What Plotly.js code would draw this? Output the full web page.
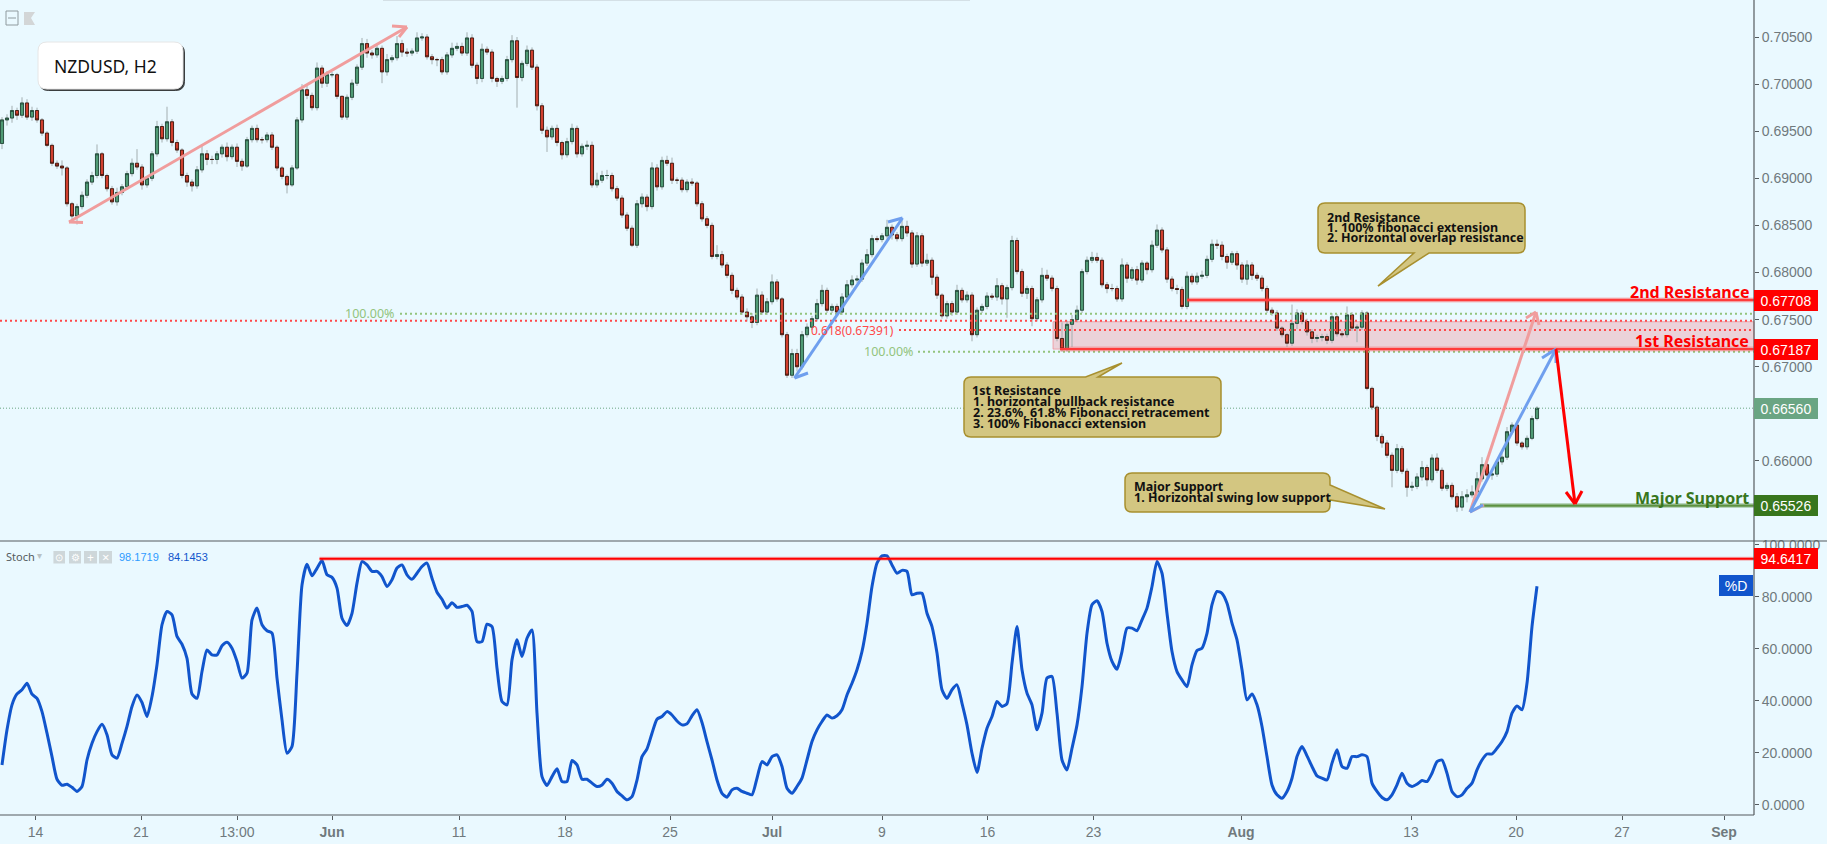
<!DOCTYPE html>
<html><head><meta charset="utf-8">
<script src="https://cdn.plot.ly/plotly-3.0.1.min.js"></script>
<style>html,body{margin:0;padding:0;background:#eaf9ff;overflow:hidden}</style>
</head><body><div id="chart" style="width:1827px;height:844px"></div>
<script>
const closes=[0.6962,0.6964,0.6972,0.6967,0.6980,0.6965,0.6972,0.6962,0.6948,0.6935,
0.6916,0.6913,0.6911,0.6873,0.6860,0.6870,0.6882,0.6896,0.6903,0.6926,
0.6903,0.6889,0.6875,0.6885,0.6891,0.6905,0.6916,0.6912,0.6893,0.6900,
0.6926,0.6955,0.6942,0.6960,0.6938,0.6930,0.6903,0.6896,0.6892,0.6909,
0.6926,0.6920,0.6920,0.6926,0.6933,0.6923,0.6933,0.6918,0.6913,0.6941,
0.6953,0.6941,0.6941,0.6946,0.6933,0.6911,0.6902,0.6893,0.6911,0.6962,
0.6994,0.6988,0.6975,0.7017,0.7001,0.7010,0.7010,0.6987,0.6965,0.6986,
0.7001,0.7018,0.7043,0.7033,0.7031,0.7038,0.7013,0.7026,0.7028,0.7043,
0.7034,0.7033,0.7035,0.7049,0.7050,0.7029,0.7026,0.7026,0.7013,0.7031,
0.7038,0.7040,0.7033,0.7049,0.7020,0.7006,0.7037,0.7034,0.7006,0.7003,
0.7006,0.7026,0.7046,0.7007,0.7022,0.7036,0.7018,0.6977,0.6951,0.6944,
0.6953,0.6938,0.6925,0.6939,0.6953,0.6926,0.6934,0.6935,0.6893,0.6898,
0.6903,0.6903,0.6889,0.6879,0.6861,0.6847,0.6829,0.6873,0.6880,0.6870,
0.6911,0.6891,0.6919,0.6916,0.6898,0.6898,0.6888,0.6896,0.6895,0.6873,
0.6857,0.6850,0.6817,0.6819,0.6808,0.6797,0.6781,0.6774,0.6758,0.6753,
0.6747,0.6776,0.6758,0.6769,0.6790,0.6772,0.6734,0.6691,0.6714,0.6700,
0.6734,0.6742,0.6751,0.6767,0.6781,0.6760,0.6764,0.6758,0.6774,0.6787,
0.6792,0.6793,0.6810,0.6819,0.6836,0.6835,0.6839,0.6848,0.6840,0.6836,
0.6849,0.6842,0.6809,0.6839,0.6810,0.6813,0.6795,0.6776,0.6754,0.6767,
0.6758,0.6781,0.6771,0.6776,0.6734,0.6760,0.6764,0.6775,0.6774,0.6786,
0.6772,0.6784,0.6834,0.6801,0.6778,0.6783,0.6751,0.6771,0.6797,0.6794,
0.6783,0.6730,0.6719,0.6745,0.6750,0.6760,0.6801,0.6813,0.6816,0.6813,
0.6787,0.6783,0.6783,0.6772,0.6808,0.6794,0.6803,0.6792,0.6810,0.6803,
0.6829,0.6845,0.6824,0.6793,0.6783,0.6782,0.6764,0.6796,0.6790,0.6796,
0.6797,0.6814,0.6830,0.6829,0.6817,0.6811,0.6820,0.6808,0.6793,0.6808,
0.6797,0.6794,0.6783,0.6760,0.6757,0.6741,0.6734,0.6725,0.6746,0.6757,
0.6748,0.6737,0.6730,0.6731,0.6732,0.6728,0.6753,0.6735,0.6734,0.6755,
0.6741,0.6742,0.6757,0.6677,0.6657,0.6626,0.6619,0.6606,0.6590,0.6613,
0.6589,0.6572,0.6573,0.6583,0.6593,0.6580,0.6603,0.6590,0.6571,0.6574,
0.6562,0.6551,0.6562,0.6564,0.6567,0.6581,0.6596,0.6585,0.6586,0.6599,
0.6604,0.6631,0.6638,0.6619,0.6615,0.6624,0.6645,0.6656];
const opens=[0.6937,0.6962,0.6964,0.6972,0.6967,0.6980,0.6965,0.6972,0.6962,0.6948,
0.6935,0.6916,0.6913,0.6911,0.6873,0.6860,0.6870,0.6882,0.6896,0.6903,
0.6926,0.6903,0.6889,0.6875,0.6885,0.6891,0.6905,0.6916,0.6912,0.6893,
0.6900,0.6926,0.6955,0.6942,0.6960,0.6938,0.6930,0.6903,0.6896,0.6892,
0.6909,0.6926,0.6920,0.6920,0.6926,0.6933,0.6923,0.6933,0.6918,0.6913,
0.6941,0.6953,0.6941,0.6941,0.6946,0.6933,0.6911,0.6902,0.6893,0.6911,
0.6962,0.6994,0.6988,0.6975,0.7017,0.7001,0.7010,0.7010,0.6987,0.6965,
0.6986,0.7001,0.7018,0.7043,0.7033,0.7031,0.7038,0.7013,0.7026,0.7028,
0.7043,0.7034,0.7033,0.7035,0.7049,0.7050,0.7029,0.7026,0.7026,0.7013,
0.7031,0.7038,0.7040,0.7033,0.7049,0.7020,0.7006,0.7037,0.7034,0.7006,
0.7003,0.7006,0.7026,0.7046,0.7007,0.7022,0.7036,0.7018,0.6977,0.6951,
0.6944,0.6953,0.6938,0.6925,0.6939,0.6953,0.6926,0.6934,0.6935,0.6893,
0.6898,0.6903,0.6903,0.6889,0.6879,0.6861,0.6847,0.6829,0.6873,0.6880,
0.6870,0.6911,0.6891,0.6919,0.6916,0.6898,0.6898,0.6888,0.6896,0.6895,
0.6873,0.6857,0.6850,0.6817,0.6819,0.6808,0.6797,0.6781,0.6774,0.6758,
0.6753,0.6747,0.6776,0.6758,0.6769,0.6790,0.6772,0.6734,0.6691,0.6714,
0.6700,0.6734,0.6742,0.6751,0.6767,0.6781,0.6760,0.6764,0.6758,0.6774,
0.6787,0.6792,0.6793,0.6810,0.6819,0.6836,0.6835,0.6839,0.6848,0.6840,
0.6836,0.6849,0.6842,0.6809,0.6839,0.6810,0.6813,0.6795,0.6776,0.6754,
0.6767,0.6758,0.6781,0.6771,0.6776,0.6734,0.6760,0.6764,0.6775,0.6774,
0.6786,0.6772,0.6784,0.6834,0.6801,0.6778,0.6783,0.6751,0.6771,0.6797,
0.6794,0.6783,0.6730,0.6719,0.6745,0.6750,0.6760,0.6801,0.6813,0.6816,
0.6813,0.6787,0.6783,0.6783,0.6772,0.6808,0.6794,0.6803,0.6792,0.6810,
0.6803,0.6829,0.6845,0.6824,0.6793,0.6783,0.6782,0.6764,0.6796,0.6790,
0.6796,0.6797,0.6814,0.6830,0.6829,0.6817,0.6811,0.6820,0.6808,0.6793,
0.6808,0.6797,0.6794,0.6783,0.6760,0.6757,0.6741,0.6734,0.6725,0.6746,
0.6757,0.6748,0.6737,0.6730,0.6731,0.6732,0.6728,0.6753,0.6735,0.6734,
0.6755,0.6741,0.6742,0.6757,0.6677,0.6657,0.6626,0.6619,0.6606,0.6590,
0.6613,0.6589,0.6572,0.6573,0.6583,0.6593,0.6580,0.6603,0.6590,0.6571,
0.6574,0.6562,0.6551,0.6562,0.6564,0.6567,0.6581,0.6596,0.6585,0.6586,
0.6599,0.6604,0.6631,0.6638,0.6619,0.6615,0.6624,0.6645];
const upperWickPips=[3,4,5,3,6,4,4,3,2,2,2,3,6,2,2,3,4,3,4,10,2,2,3,5,3,3,5,15,3,2,3,6,3,16,3,3,2,3,3,4,10,4,4,3,3,5,3,4,3,3,3,4,3,3,3,2,2,2,3,3,6,4,3,6,3,4,3,2,1,3,4,3,6,5,3,5,3,6,3,8,4,4,3,6,4,3,3,2,3,3,6,4,4,6,4,3,6,3,3,2,3,4,6,4,3,5,3,3,3,4,3,4,2,4,5,3,3,5,4,8,5,6,3,3,3,3,3,4,4,3,6,4,4,5,6,3,3,3,4,2,3,3,3,10,4,3,3,3,3,4,4,7,4,4,8,3,2,3,5,5,4,4,3,5,6,3,3,3,4,5,5,4,4,6,4,3,3,8,3,3,8,6,3,4,3,7,3,3,2,3,3,6,3,4,3,3,3,4,3,8,3,3,5,3,3,3,3,3,8,6,3,3,17,4,5,5,3,4,6,5,3,3,5,3,7,3,3,4,3,2,5,6,3,3,3,4,3,5,3,4,5,4,5,5,4,3,3,3,3,5,3,3,3,3,3,3,2,2,20,4,3,3,3,3,3,3,4,3,3,9,3,3,3,2,2,2,3,3,3,5,3,3,5,4,7,3,4,5,3,3,3,4,6,6,7,7,8,5,3,3,5,5,3,2,2,3,3,2];
const lowerWickPips=[6,6,5,5,3,3,4,3,3,2,3,3,8,3,4,9,3,3,3,3,3,3,3,4,3,3,3,3,5,3,3,3,4,3,4,3,3,5,6,3,3,6,5,5,4,5,3,6,5,2,3,3,4,3,3,3,3,9,2,2,3,4,3,3,5,4,3,3,3,3,3,3,3,5,4,3,12,4,3,3,5,4,3,3,3,3,5,7,3,3,3,3,3,3,3,6,4,3,4,6,3,3,3,32,4,3,3,5,4,16,3,4,5,3,3,4,3,4,3,3,3,4,3,3,3,3,2,3,4,5,3,4,3,3,4,4,3,3,3,3,3,3,3,3,3,3,4,3,3,5,6,3,3,3,3,3,3,3,3,5,3,3,3,3,3,3,3,3,3,3,3,3,3,3,3,3,3,3,5,3,3,4,4,3,4,3,8,4,3,3,4,3,3,3,7,3,3,3,3,4,6,20,3,3,4,6,8,3,3,3,3,3,3,3,24,3,3,3,3,3,3,5,3,3,3,5,3,5,3,5,3,3,3,4,3,5,3,3,3,3,3,3,3,4,4,7,3,5,4,6,5,3,3,3,3,3,3,4,3,6,3,4,5,4,4,4,3,3,3,3,3,15,3,2,3,5,5,3,18,3,3,10,4,3,4,7,3,3,3,3,3,5,4,6,3,3,3,3,5,3,3,3,3,3,3,3,2,2];
const stochD=[15.4,28.9,38.5,42.7,44.3,46.8,42.6,41.0,35.9,27.6,18.6,9.9,7.6,8.0,6.8,5.2,7.1,17.3,23.7,28.2,31.0,27.0,19.3,18.0,23.7,30.2,37.9,42.3,39.4,34.0,41.7,53.9,69.3,74.4,73.1,64.8,61.8,56.4,42.7,41.0,51.3,59.6,57.7,57.7,61.2,62.6,60.3,55.2,48.8,50.7,71.2,75.7,69.3,67.0,66.1,48.8,32.7,19.9,22.5,50.7,84.6,92.6,88.1,91.0,94.0,88.5,87.5,83.4,71.8,69.0,73.7,85.3,93.6,92.3,89.8,89.8,87.8,84.0,86.6,91.1,92.3,88.5,86.8,89.1,91.7,93.0,87.2,81.8,79.1,75.7,77.8,76.0,76.3,76.8,74.4,62.8,62.8,69.5,68.6,52.6,39.8,38.5,55.8,63.5,57.1,64.1,67.3,35.3,10.9,7.5,10.9,13.9,9.0,9.0,17.1,15.4,9.9,9.9,8.4,7.1,7.7,9.9,8.4,5.2,3.5,2.0,3.2,9.6,18.6,21.6,27.6,33.0,34.0,35.9,34.6,32.3,30.8,31.2,34.3,36.6,31.7,24.4,17.3,9.6,4.5,3.0,5.8,6.4,5.2,4.5,3.9,10.3,16.7,15.4,18.6,19.3,14.8,6.4,4.5,7.1,10.3,17.3,24.4,28.9,32.1,34.6,33.4,34.3,36.6,42.3,46.8,52.0,59.0,69.9,84.0,93.0,95.8,95.8,92.3,89.1,90.2,89.8,80.8,81.4,81.4,73.7,68.6,58.4,44.3,41.0,44.3,46.2,39.1,30.8,19.9,12.5,21.8,29.5,34.0,39.8,37.9,39.0,54.5,68.6,52.0,43.0,38.5,28.9,35.3,48.8,49.4,35.3,17.3,13.5,21.8,30.8,45.5,66.0,77.0,78.5,74.4,62.2,55.2,52.2,59.0,68.0,68.0,67.0,71.2,75.7,84.0,93.6,89.1,73.7,59.0,51.3,48.1,45.5,53.9,59.4,60.3,66.0,77.0,82.1,81.4,77.6,69.9,63.5,52.0,40.4,42.7,38.5,30.2,18.6,7.7,3.9,2.6,5.2,10.3,18.6,22.5,18.9,14.8,11.2,10.3,9.6,16.1,21.2,14.8,14.1,18.6,18.6,19.3,18.6,8.4,5.2,2.9,2.0,3.9,7.7,12.2,8.4,7.1,8.0,9.4,9.0,12.2,16.7,17.3,12.2,5.2,3.2,3.9,6.4,8.4,13.5,17.3,19.6,19.6,21.8,24.4,28.2,35.3,38.1,36.6,46.8,68.6,84.1];
const dateTickBars=[6.72,27.8,47,66,91.4,112.6,133.6,154,176,197.1,218.3,247.8,281.8,302.8,324,344.4];
const dateTickLabels=['14','21','13:00','<b>Jun</b>','11','18','25','<b>Jul</b>','9','16','23','<b>Aug</b>','13','20','27','<b>Sep</b>'];
const priceTicks=[0.655,0.66,0.665,0.67,0.675,0.68,0.685,0.69,0.695,0.70,0.705];
const stochTicks=[0,20,40,60,80,100];
const level2nd=0.67708, level1st=0.67187, levelNow=0.6656, levelSupport=0.65526, levelStoch=94.6417;
const levelZoneTop=0.67478, levelRedDot=0.67488, levelFib618=0.67391, levelFibTop=0.67563, levelFibLow=0.67159;

const W=1754,H=815;
const X=p=>p/W, Y=p=>1-p/H;
const bg='#eaf9ff';
const highs=closes.map((c,i)=>Math.max(c,opens[i])+upperWickPips[i]*1e-4);
const lows=closes.map((c,i)=>Math.min(c,opens[i])-lowerWickPips[i]*1e-4);
const bodyHigh=closes.map((c,i)=>Math.max(c,opens[i]));
const bodyLow=closes.map((c,i)=>Math.min(c,opens[i]));
const up='#4f9a74', down='#d13f2e';

const traces=[
 {type:'candlestick',open:opens,high:highs,low:lows,close:closes,xaxis:'x',yaxis:'y',
  increasing:{line:{color:'#a3aeb0',width:1},fillcolor:'#a3aeb0'},
  decreasing:{line:{color:'#a3aeb0',width:1},fillcolor:'#a3aeb0'},whiskerwidth:0,hoverinfo:'skip',showlegend:false},
 {type:'candlestick',open:opens,high:bodyHigh,low:bodyLow,close:closes,xaxis:'x',yaxis:'y',
  increasing:{line:{color:'#24493a',width:0.9},fillcolor:up},
  decreasing:{line:{color:'#43180f',width:0.9},fillcolor:down},whiskerwidth:0,hoverinfo:'skip',showlegend:false},
 {type:'scatter',mode:'lines',y:stochD,xaxis:'x',yaxis:'y2',line:{color:'#1155cc',width:3,shape:'spline',smoothing:0.6},hoverinfo:'skip',showlegend:false}
];

function hLine(y,yref,x0,color,width,dash,layer){
 return {type:'line',xref:'paper',yref:yref,x0:X(x0),x1:1,y0:y,y1:y,line:{color:color,width:width,dash:dash||'solid'},layer:layer||'above'};
}
function seg(a,b,color,w){return {type:'line',xref:'paper',yref:'paper',x0:X(a[0]),y0:Y(a[1]),x1:X(b[0]),y1:Y(b[1]),line:{color:color,width:w},layer:'above'};}
function arrow(a,b,legsA,legsB,color,w){
 const out=[seg(a,b,color,w)];
 legsA.forEach(l=>out.push(seg(a,l,color,w)));
 legsB.forEach(l=>out.push(seg(b,l,color,w)));
 return out;
}
function P(x,y){return X(x)+','+Y(y);}
function balloon(x0,y0,x1,y1,r,ptr,fill,line,lw){
 let d='M'+P(x0+r,y0);
 if(ptr&&ptr.side==='top') d+=' L'+P(ptr.a,y0)+' L'+P(ptr.tx,ptr.ty)+' L'+P(ptr.b,y0);
 d+=' L'+P(x1-r,y0)+' Q'+P(x1,y0)+' '+P(x1,y0+r);
 if(ptr&&ptr.side==='right') d+=' L'+P(x1,ptr.a)+' L'+P(ptr.tx,ptr.ty)+' L'+P(x1,ptr.b);
 d+=' L'+P(x1,y1-r)+' Q'+P(x1,y1)+' '+P(x1-r,y1);
 if(ptr&&ptr.side==='bottom') d+=' L'+P(ptr.b,y1)+' L'+P(ptr.tx,ptr.ty)+' L'+P(ptr.a,y1);
 d+=' L'+P(x0+r,y1)+' Q'+P(x0,y1)+' '+P(x0,y1-r)+' L'+P(x0,y0+r)+' Q'+P(x0,y0)+' '+P(x0+r,y0)+' Z';
 return {type:'path',xref:'paper',yref:'paper',path:d,fillcolor:fill,line:{color:line,width:lw},layer:'above'};
}
const pink='#f09d9d', blue='#6f9fee', tan='#d3c681', gold='#a8902f';
const dots='2px,3px';
const shapes=[
 {type:'rect',xref:'paper',yref:'y',x0:X(1053),x1:1,y0:level1st,y1:levelZoneTop,fillcolor:'rgba(240,120,130,0.30)',line:{color:'rgba(240,120,130,0.6)',width:1},layer:'below'},
 hLine(levelNow,'y',0,'#6aa583',1,'1px,2px'),
 hLine(levelRedDot,'y',0,'#ff4a4a',2,dots),
 hLine(levelFib618,'y',899,'#ff4a4a',2,dots),
 hLine(levelFibTop,'y',400,'#93c47d',2,dots),
 hLine(levelFibLow,'y',918,'#93c47d',2,dots),
 hLine(level2nd,'y',1187,'rgba(255,60,60,0.3)',5),
 hLine(level2nd,'y',1187,'#ff3b3b',2.4),
 hLine(level1st,'y',1060,'rgba(255,60,60,0.3)',5),
 hLine(level1st,'y',1060,'#ff3b3b',2.4),
 hLine(levelSupport,'y',1480,'rgba(90,145,70,0.35)',5),
 hLine(levelSupport,'y',1480,'#5c9140',2.4),
 hLine(levelStoch,'y2',319.5,'rgba(255,60,60,0.35)',4),
 hLine(levelStoch,'y2',319.5,'#ff0000',2),
 {type:'line',xref:'paper',yref:'paper',x0:0,x1:1827/W,y0:Y(541),y1:Y(541),line:{color:'#555b5e',width:1.2},layer:'above'},
 {type:'line',xref:'paper',yref:'paper',x0:0,x1:1,y0:0,y1:0,line:{color:'#555b5e',width:1.2},layer:'above'},
 {type:'line',xref:'paper',yref:'paper',x0:1,x1:1,y0:0,y1:1,line:{color:'#555b5e',width:1.2},layer:'above'},
 {type:'line',xref:'paper',yref:'paper',x0:X(383),x1:X(970),y0:Y(0.5),y1:Y(0.5),line:{color:'rgba(190,200,205,0.5)',width:1},layer:'above'},
 ...arrow([69,222],[407,27],[[83,222.5]],[[392,26],[399,37]],pink,3),
 ...arrow([794.5,378],[902.5,218],[[808,373]],[[888,222]],blue,3),
 ...arrow([1470,512],[1536,312],[[1484,505]],[[1526,318],[1539,325]],pink,3),
 ...arrow([1470,512],[1556,349],[[1483,505]],[[1542,358],[1556,363]],blue,3),
 ...arrow([1556,349],[1575,504],[],[[1566,492],[1582,491]],'#ff0000',3),
 balloon(39.5,44,184.5,90.5,9,null,'#3a3d3e','#3a3d3e',1),
 balloon(38,42,183,89,9,null,'#ffffff','#e6e6e6',1),
 balloon(964,377,1221,437,7,{side:'top',a:1085.6,b:1098,tx:1122,ty:363},tan,gold,1.5),
 balloon(1318,203,1525,253,7,{side:'bottom',a:1414,b:1429,tx:1378,ty:286},tan,gold,1.5),
 balloon(1125,473,1330,512,7,{side:'right',a:485,b:500,tx:1385,ty:509},tan,gold,1.5),
 {type:'rect',xref:'paper',yref:'paper',x0:X(6),x1:X(18),y0:Y(11),y1:Y(25),line:{color:'#8f9a9e',width:1},fillcolor:'rgba(0,0,0,0)',layer:'above'},
 {type:'line',xref:'paper',yref:'paper',x0:X(8),x1:X(16),y0:Y(18),y1:Y(18),line:{color:'#8f9a9e',width:1},layer:'above'},
 {type:'path',xref:'paper',yref:'paper',path:'M'+P(24,12)+' L'+P(35,12)+' L'+P(31,18)+' L'+P(35,25)+' L'+P(24,25)+' Z',fillcolor:'#d3d6d7',line:{width:0},layer:'above'},
 ...[[53.4,65],[69,81],[84,97],[99,112]].map(b=>({type:'rect',xref:'paper',yref:'paper',x0:X(b[0]),x1:X(b[1]),y0:Y(551),y1:Y(563.5),fillcolor:'#ced7da',line:{width:0},layer:'above'}))
];

function txt(x,y,text,size,color,opt,family){
 return Object.assign({xref:'paper',yref:'paper',x:X(x),y:Y(y),xanchor:'left',yanchor:'middle',text:text,showarrow:false,
  font:{family:family||'"Noto Sans",sans-serif',size:size,color:color},borderpad:0,borderwidth:0},opt||{});
}
function tag(y,yref,text,bg){
 return {xref:'paper',yref:yref,x:1,y:y,xanchor:'left',yanchor:'middle',text:text,showarrow:false,bgcolor:bg,width:64,height:21,align:'center',borderpad:0,borderwidth:0,
  font:{family:'"Liberation Sans",Arial,sans-serif',size:14,color:'#ffffff'}};
}
const calloutFont=12.5;
const ann=[
 tag(level2nd,'y','0.67708','#ff0000'),
 tag(level1st,'y','0.67187','#ff0000'),
 tag(levelNow,'y','0.66560','#6aa583'),
 tag(levelSupport,'y','0.65526','#38761d'),
 tag(levelStoch,'y2','94.6417','#ff0000'),
 txt(54,66,'NZDUSD, H2',17.5,'#111111'),
 txt(1749,291.7,'<b>2nd Resistance</b>',16,'#ff0000',{xanchor:'right'}),
 txt(1749,340.7,'<b>1st Resistance</b>',16,'#ff0000',{xanchor:'right'}),
 txt(1749,497.7,'<b>Major Support</b>',16,'#38761d',{xanchor:'right'}),
 txt(345,313.5,'100.00%',12.5,'#93c47d'),
 txt(864,352,'100.00%',12.5,'#93c47d'),
 txt(811,330,'0.618(0.67391)',12,'#ff4a4a'),
 txt(972.5,390,'<b>1st Resistance</b>',calloutFont,'#111'),
 txt(972.5,401,'<b>1. horizontal pullback resistance</b>',calloutFont,'#111'),
 txt(972.5,412,'<b>2. 23.6%, 61.8% Fibonacci retracement</b>',calloutFont,'#111'),
 txt(972.5,423,'<b>3. 100% Fibonacci extension</b>',calloutFont,'#111'),
 txt(1327,217,'<b>2nd Resistance</b>',calloutFont,'#111'),
 txt(1327,227.5,'<b>1. 100% fibonacci extension</b>',calloutFont,'#111'),
 txt(1327,238,'<b>2. Horizontal overlap resistance</b>',calloutFont,'#111'),
 txt(1134,486,'<b>Major Support</b>',calloutFont,'#111'),
 txt(1134,497,'<b>1. Horizontal swing low support</b>',calloutFont,'#111'),
 txt(5.5,556,'Stoch',11,'#555b5e'),
 txt(37,555,'▾',10,'#b9c2c5'),
 txt(119,557,'98.1719',11,'#2e9bff',null,'"Liberation Sans",sans-serif'),
 txt(168,557,'84.1453',11,'#1155cc',null,'"Liberation Sans",sans-serif'),
 txt(59.2,557,'⊙',10,'#ffffff',{xanchor:'center'}),
 txt(75,557,'⚙',10,'#ffffff',{xanchor:'center'}),
 txt(90.5,557,'+',12,'#ffffff',{xanchor:'center'}),
 txt(105.5,557,'×',13,'#ffffff',{xanchor:'center'}),
 {xref:'paper',yref:'paper',x:X(1736),y:Y(585.5),xanchor:'center',yanchor:'middle',text:'%D',showarrow:false,bgcolor:'#1155cc',width:34,height:21,align:'center',borderpad:0,borderwidth:0,
  font:{family:'"Liberation Sans",sans-serif',size:14,color:'#ffffff'}}
];
const tickFont={family:'"Liberation Sans",Arial,sans-serif',size:14,color:'#70797d'};
const layout={
 width:1827,height:844,margin:{l:0,r:73,t:0,b:29,pad:0},autosize:false,
 paper_bgcolor:bg,plot_bgcolor:bg,showlegend:false,boxgap:0.12,boxmode:'overlay',
 xaxis:{range:[-0.4,350.4],domain:[0,1],anchor:'y2',rangeslider:{visible:false},tickmode:'array',tickvals:dateTickBars,ticktext:dateTickLabels,
  ticks:'outside',ticklen:4,tickcolor:'#555b5e',tickfont:tickFont,showgrid:false,zeroline:false,showline:false,automargin:false},
 yaxis:{domain:[(H-541)/H,1],range:[0.6515,0.70893],side:'right',anchor:'x',tickmode:'array',tickvals:priceTicks,tickformat:'.5f',
  ticks:'outside',ticklen:4,tickcolor:'#555b5e',tickfont:tickFont,showgrid:false,zeroline:false,showline:false,automargin:false},
 yaxis2:{domain:[0,(H-541)/H],range:[-3.85,101.5],side:'right',anchor:'x',tickmode:'array',tickvals:stochTicks,tickformat:'.4f',
  ticks:'outside',ticklen:4,tickcolor:'#555b5e',tickfont:tickFont,showgrid:false,zeroline:false,showline:false,automargin:false},
 shapes:shapes,annotations:ann
};
Plotly.newPlot('chart',traces,layout,{displayModeBar:false,staticPlot:true});
</script></body></html>
